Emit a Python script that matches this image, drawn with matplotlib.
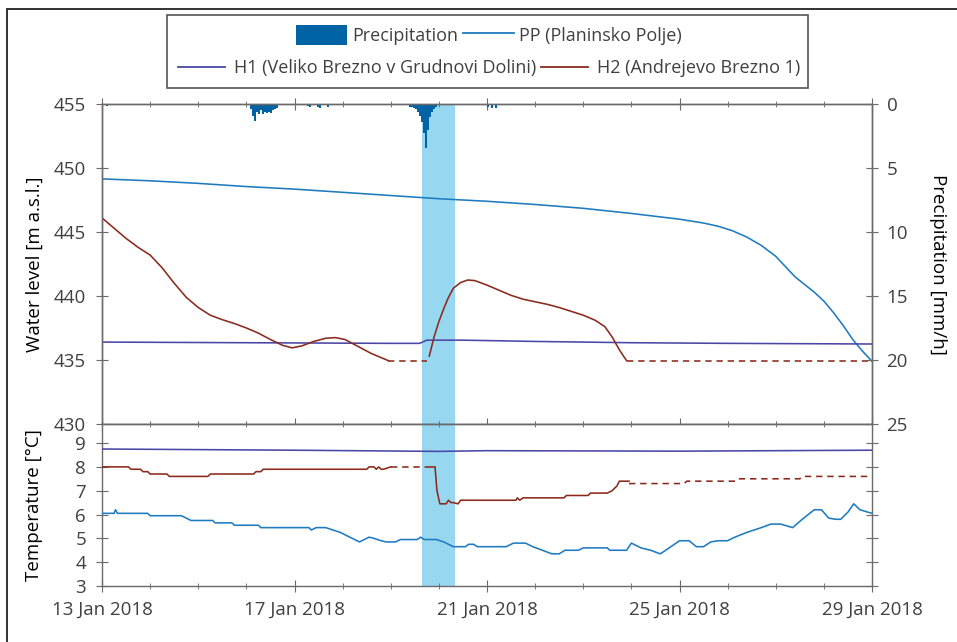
import numpy as np
import matplotlib
matplotlib.use('Agg')
import matplotlib.pyplot as plt
from matplotlib.patches import Rectangle, Patch
from matplotlib.lines import Line2D

# days since 13 Jan 2018 00:00
date_ticks = [0, 4, 8, 12, 16]
date_labels = ['13 Jan 2018', '17 Jan 2018', '21 Jan 2018', '25 Jan 2018', '29 Jan 2018']
event_span = (6.65, 7.34)

# water level PP (Planinsko Polje)
pp_t = [0, 1, 2, 3, 4, 5, 6, 7, 8, 9, 10, 11, 12, 12.5, 12.8, 13.1, 13.4, 13.7, 14.0,
        14.2, 14.4, 14.6, 14.8, 15.0, 15.2, 15.4, 15.6, 15.8, 16]
pp_h = [449.15, 449.0, 448.8, 448.55, 448.35, 448.1, 447.85, 447.6, 447.4, 447.15, 446.85,
        446.45, 446.0, 445.7, 445.45, 445.1, 444.6, 443.95, 443.1, 442.3, 441.5, 440.9,
        440.3, 439.6, 438.7, 437.7, 436.6, 435.7, 434.9]

# water level H1
h1_t = [0, 3, 6, 6.6, 6.75, 7.5, 9, 11, 13, 16]
h1_h = [436.4, 436.35, 436.3, 436.3, 436.55, 436.55, 436.45, 436.35, 436.3, 436.25]

# water level H2 (two measured parts, dashed = below sensor)
h2a_t = [0, 0.25, 0.5, 0.75, 1.0, 1.25, 1.5, 1.75, 2.0, 2.25, 2.5, 2.75, 3.0, 3.25, 3.5,
         3.75, 3.95, 4.15, 4.4, 4.65, 4.85, 5.05, 5.3, 5.6, 5.95]
h2a_h = [446.1, 445.3, 444.5, 443.8, 443.2, 442.2, 441.0, 439.9, 439.1, 438.5, 438.15,
         437.85, 437.5, 437.1, 436.6, 436.15, 435.95, 436.1, 436.45, 436.7, 436.75, 436.6,
         436.1, 435.5, 434.95]
h2b_t = [6.8, 6.9, 7.0, 7.1, 7.2, 7.3, 7.45, 7.6, 7.75, 8.0, 8.25, 8.5, 8.75, 9.0, 9.25,
         9.5, 9.75, 10.0, 10.25, 10.45, 10.6, 10.75, 10.9]
h2b_h = [435.3, 436.8, 438.0, 439.0, 439.9, 440.6, 441.05, 441.25, 441.2, 440.85, 440.45,
         440.05, 439.75, 439.55, 439.35, 439.1, 438.8, 438.5, 438.1, 437.6, 436.8, 435.8,
         434.95]
h2_gap1_t = [5.95, 6.75]
h2_gap2_t = [10.9, 16]
h2_gap_h = 434.95

# hourly precipitation [mm/h], hour index since 13 Jan 00:00
rain_hours = [1, 2, 3, 10, 11,
              74, 75, 76, 77, 78, 79, 80, 81, 82, 83, 84, 85, 86, 87,
              98, 99, 101, 102, 103, 104, 106, 107, 108, 109, 111, 112, 113,
              152, 153, 154, 155, 156, 157, 158, 159, 160, 161, 162, 163, 164, 165, 166,
              192, 193, 194, 195, 196, 197, 310]
rain_mm = [0.1, 0.15, 0.1, 0.1, 0.1,
           0.4, 0.9, 1.3, 0.6, 0.8, 0.5, 0.8, 0.6, 0.7, 0.6, 0.7, 0.5, 0.4, 0.3,
           0.1, 0.1, 0.1, 0.15, 0.2, 0.1, 0.1, 0.2, 0.3, 0.1, 0.1, 0.2, 0.1,
           0.1, 0.2, 0.2, 0.3, 0.4, 0.6, 0.9, 1.4, 2.3, 3.4, 2.0, 1.0, 0.6, 0.4, 0.2,
           0.2, 0.1, 0.3, 0.1, 0.3, 0.1, 0.05]

# temperatures
t_h1_t = [0, 4, 7, 8, 12, 16]
t_h1 = [8.75, 8.7, 8.65, 8.68, 8.66, 8.7]

t_h2a_t = [0, 0.55, 0.6, 0.8, 0.85, 0.95, 1.0, 1.35, 1.4, 2.2, 2.25, 3.15, 3.2, 3.3, 3.35,
           5.5, 5.55, 5.65, 5.7, 5.75, 5.8, 5.85, 6.0]
t_h2a = [8.0, 8.0, 7.9, 7.9, 7.8, 7.8, 7.7, 7.7, 7.6, 7.6, 7.7, 7.7, 7.8, 7.8, 7.9,
         7.9, 8.0, 8.0, 7.9, 8.0, 7.9, 7.9, 8.0]
t_h2b_t = [6.85, 6.92, 6.96, 7.02, 7.15, 7.2, 7.25, 7.3, 7.4, 7.45, 8.6, 8.63, 8.68, 8.75,
           9.6, 9.65, 10.1, 10.15, 10.5, 10.6, 10.7, 10.75, 10.95]
t_h2b = [8.0, 8.0, 7.0, 6.45, 6.45, 6.6, 6.5, 6.5, 6.45, 6.6, 6.6, 6.7, 6.6, 6.7,
         6.7, 6.8, 6.8, 6.9, 6.9, 7.0, 7.2, 7.4, 7.4]
t_h2_gap1_t = [6.0, 6.9]
t_h2_gap1 = [8.0, 8.0]
t_h2_gap2_t = [10.95, 11.0, 12.1, 12.15, 13.2, 13.25, 14.5, 14.55, 16]
t_h2_gap2 = [7.3, 7.3, 7.3, 7.4, 7.4, 7.5, 7.5, 7.6, 7.6]

t_pp_t = [0, 0.25, 0.28, 0.32, 0.95, 1.0, 1.65, 1.85, 2.3, 2.35, 2.7, 2.75, 3.25, 3.3, 4.3,
          4.35, 4.45, 4.65, 4.95, 5.2, 5.35, 5.55, 5.65, 5.8, 5.9, 6.1, 6.2, 6.55, 6.62,
          6.7, 6.95, 7.1, 7.3, 7.55, 7.62, 7.72, 7.8, 8.4, 8.55, 8.8, 8.95, 9.35, 9.5,
          9.62, 9.9, 10.0, 10.5, 10.55, 10.9, 11.0, 11.2, 11.4, 11.6, 11.75, 12.0, 12.2,
          12.35, 12.5, 12.65, 12.8, 13.0, 13.15, 13.4, 13.7, 13.9, 14.1, 14.35, 14.55,
          14.8, 14.95, 15.1, 15.25, 15.35, 15.5, 15.62, 15.75, 16]
t_pp = [6.05, 6.05, 6.2, 6.05, 6.05, 5.95, 5.95, 5.75, 5.75, 5.65, 5.65, 5.55, 5.55, 5.45,
        5.45, 5.35, 5.45, 5.45, 5.25, 5.0, 4.85, 5.05, 5.0, 4.9, 4.85, 4.85, 4.95, 4.95,
        5.05, 4.95, 4.95, 4.85, 4.65, 4.65, 4.75, 4.75, 4.65, 4.65, 4.8, 4.8, 4.65, 4.35,
        4.35, 4.5, 4.5, 4.6, 4.6, 4.5, 4.5, 4.8, 4.6, 4.5, 4.35, 4.55, 4.9, 4.9, 4.65,
        4.65, 4.85, 4.9, 4.9, 5.05, 5.25, 5.45, 5.6, 5.6, 5.45, 5.8, 6.2, 6.2, 5.85, 5.8,
        5.8, 6.1, 6.45, 6.2, 6.05]

C_PP = '#1f7bc0'
C_H1 = '#4a46a6'
C_H2 = '#8a2a1c'
C_RAIN = '#0063a3'
C_BAND = '#98d7f0'
C_TXT = '#404040'
C_AX = '#6a6a6a'

plt.rcParams['font.family'] = ['Open Sans', 'DejaVu Sans']
plt.rcParams['font.size'] = 13.5
plt.rcParams['text.color'] = C_TXT
plt.rcParams['axes.edgecolor'] = C_AX
plt.rcParams['xtick.color'] = C_AX
plt.rcParams['ytick.color'] = C_AX
plt.rcParams['xtick.labelcolor'] = C_TXT
plt.rcParams['ytick.labelcolor'] = C_TXT

fig = plt.figure(figsize=(9.57, 6.42), dpi=100)
W, H = 957, 642
ax = fig.add_axes([102 / W, 1 - 424 / H, 770 / W, 320 / H])
axt = fig.add_axes([102 / W, 1 - 586 / H, 770 / W, 162 / H])

lw = 1.15
for a in (ax, axt):
    a.axvspan(*event_span, color=C_BAND, lw=0, zorder=0)
    a.set_xlim(0, 16)
    a.set_xticks(date_ticks)
    a.set_xticks(range(0, 17), minor=True)
    a.tick_params(axis='x', which='both', top=True, bottom=True, direction='inout')
    a.tick_params(axis='x', which='major', length=9)
    a.tick_params(axis='x', which='minor', length=5)
    a.tick_params(axis='y', direction='inout', length=9, labelsize=13.5, pad=7)
    for s in a.spines.values():
        s.set_linewidth(1.0)

# water level
ax.plot(pp_t, pp_h, color=C_PP, lw=lw, zorder=3)
ax.plot(h1_t, h1_h, color=C_H1, lw=lw, zorder=3)
ax.plot(h2a_t, h2a_h, color=C_H2, lw=lw, zorder=3)
ax.plot(h2b_t, h2b_h, color=C_H2, lw=lw, zorder=3)
ax.plot(h2_gap1_t, [h2_gap_h] * 2, color=C_H2, lw=lw, ls=(0, (4, 3)), zorder=3)
ax.plot(h2_gap2_t, [h2_gap_h] * 2, color=C_H2, lw=lw, ls=(0, (4, 3)), zorder=3)
ax.set_ylim(430, 455)
ax.set_yticks(range(430, 456, 5))
ax.tick_params(axis='x', labelbottom=False)
ax.set_ylabel('Water level [m a.s.l.]', fontsize=13.5)

# precipitation on inverted right axis
axr = ax.twinx()
axr.bar(np.array(rain_hours) / 24.0, rain_mm, width=1 / 24.0, align='edge',
        color=C_RAIN, lw=0)
axr.set_ylim(25, 0)
axr.set_yticks(range(0, 26, 5))
axr.tick_params(axis='y', direction='inout', length=9, labelsize=13.5, pad=6)
axr.set_ylabel('Precipitation [mm/h]', rotation=270, fontsize=13.5)
axr.yaxis.set_label_coords(1.097, 0.5)
for s in axr.spines.values():
    s.set_linewidth(1.0)

# temperature
axt.plot(t_pp_t, t_pp, color=C_PP, lw=lw, zorder=3)
axt.plot(t_h1_t, t_h1, color=C_H1, lw=lw, zorder=3)
axt.plot(t_h2a_t, t_h2a, color=C_H2, lw=lw, zorder=3)
axt.plot(t_h2b_t, t_h2b, color=C_H2, lw=lw, zorder=3)
axt.plot(t_h2_gap1_t, t_h2_gap1, color=C_H2, lw=lw, ls=(0, (4, 3)), zorder=3)
axt.plot(t_h2_gap2_t, t_h2_gap2, color=C_H2, lw=lw, ls=(0, (4, 3)), zorder=3)
axt.set_ylim(3, 9.8)
axt.set_yticks(range(3, 10))
axt.tick_params(axis='y', right=True)
axt.set_xticklabels(date_labels, fontsize=13.5)
axt.tick_params(axis='x', top=False, pad=6)
axt.set_ylabel('Temperature [°C]', fontsize=13.5)
ax.yaxis.set_label_coords(-0.076, 0.5)
axt.yaxis.set_label_coords(-0.076, 0.5)

# legend frame and two centred rows
fig.add_artist(Rectangle((167 / W, 1 - 88 / H), 641 / W, 73 / H, transform=fig.transFigure,
                         facecolor='white', edgecolor='#555555', lw=1.2))
row1 = [Patch(facecolor=C_RAIN, edgecolor='none'), Line2D([], [], color=C_PP, lw=1.3)]
row2 = [Line2D([], [], color=C_H1, lw=1.3), Line2D([], [], color=C_H2, lw=1.3)]
fig.legend(row1, ['Precipitation', 'PP (Planinsko Polje)'], ncol=2, loc='center',
           bbox_to_anchor=(489 / W, 1 - 35 / H), frameon=False, fontsize=13,
           handlelength=2.8, handleheight=1.4, handletextpad=0.3, columnspacing=0.3)
fig.legend(row2, ['H1 (Veliko Brezno v Grudnovi Dolini)', 'H2 (Andrejevo Brezno 1)'], ncol=2,
           loc='center', bbox_to_anchor=(489 / W, 1 - 68 / H), frameon=False, fontsize=13,
           handlelength=2.6, handletextpad=0.5, columnspacing=0.3)

# outer frame of the figure panel
fig.add_artist(Rectangle((7 / W, -0.1), 1.2, 1.1 - 9 / H, transform=fig.transFigure,
                         fill=False, edgecolor='#222222', lw=1.3))

fig.savefig('out.png', dpi=100)
